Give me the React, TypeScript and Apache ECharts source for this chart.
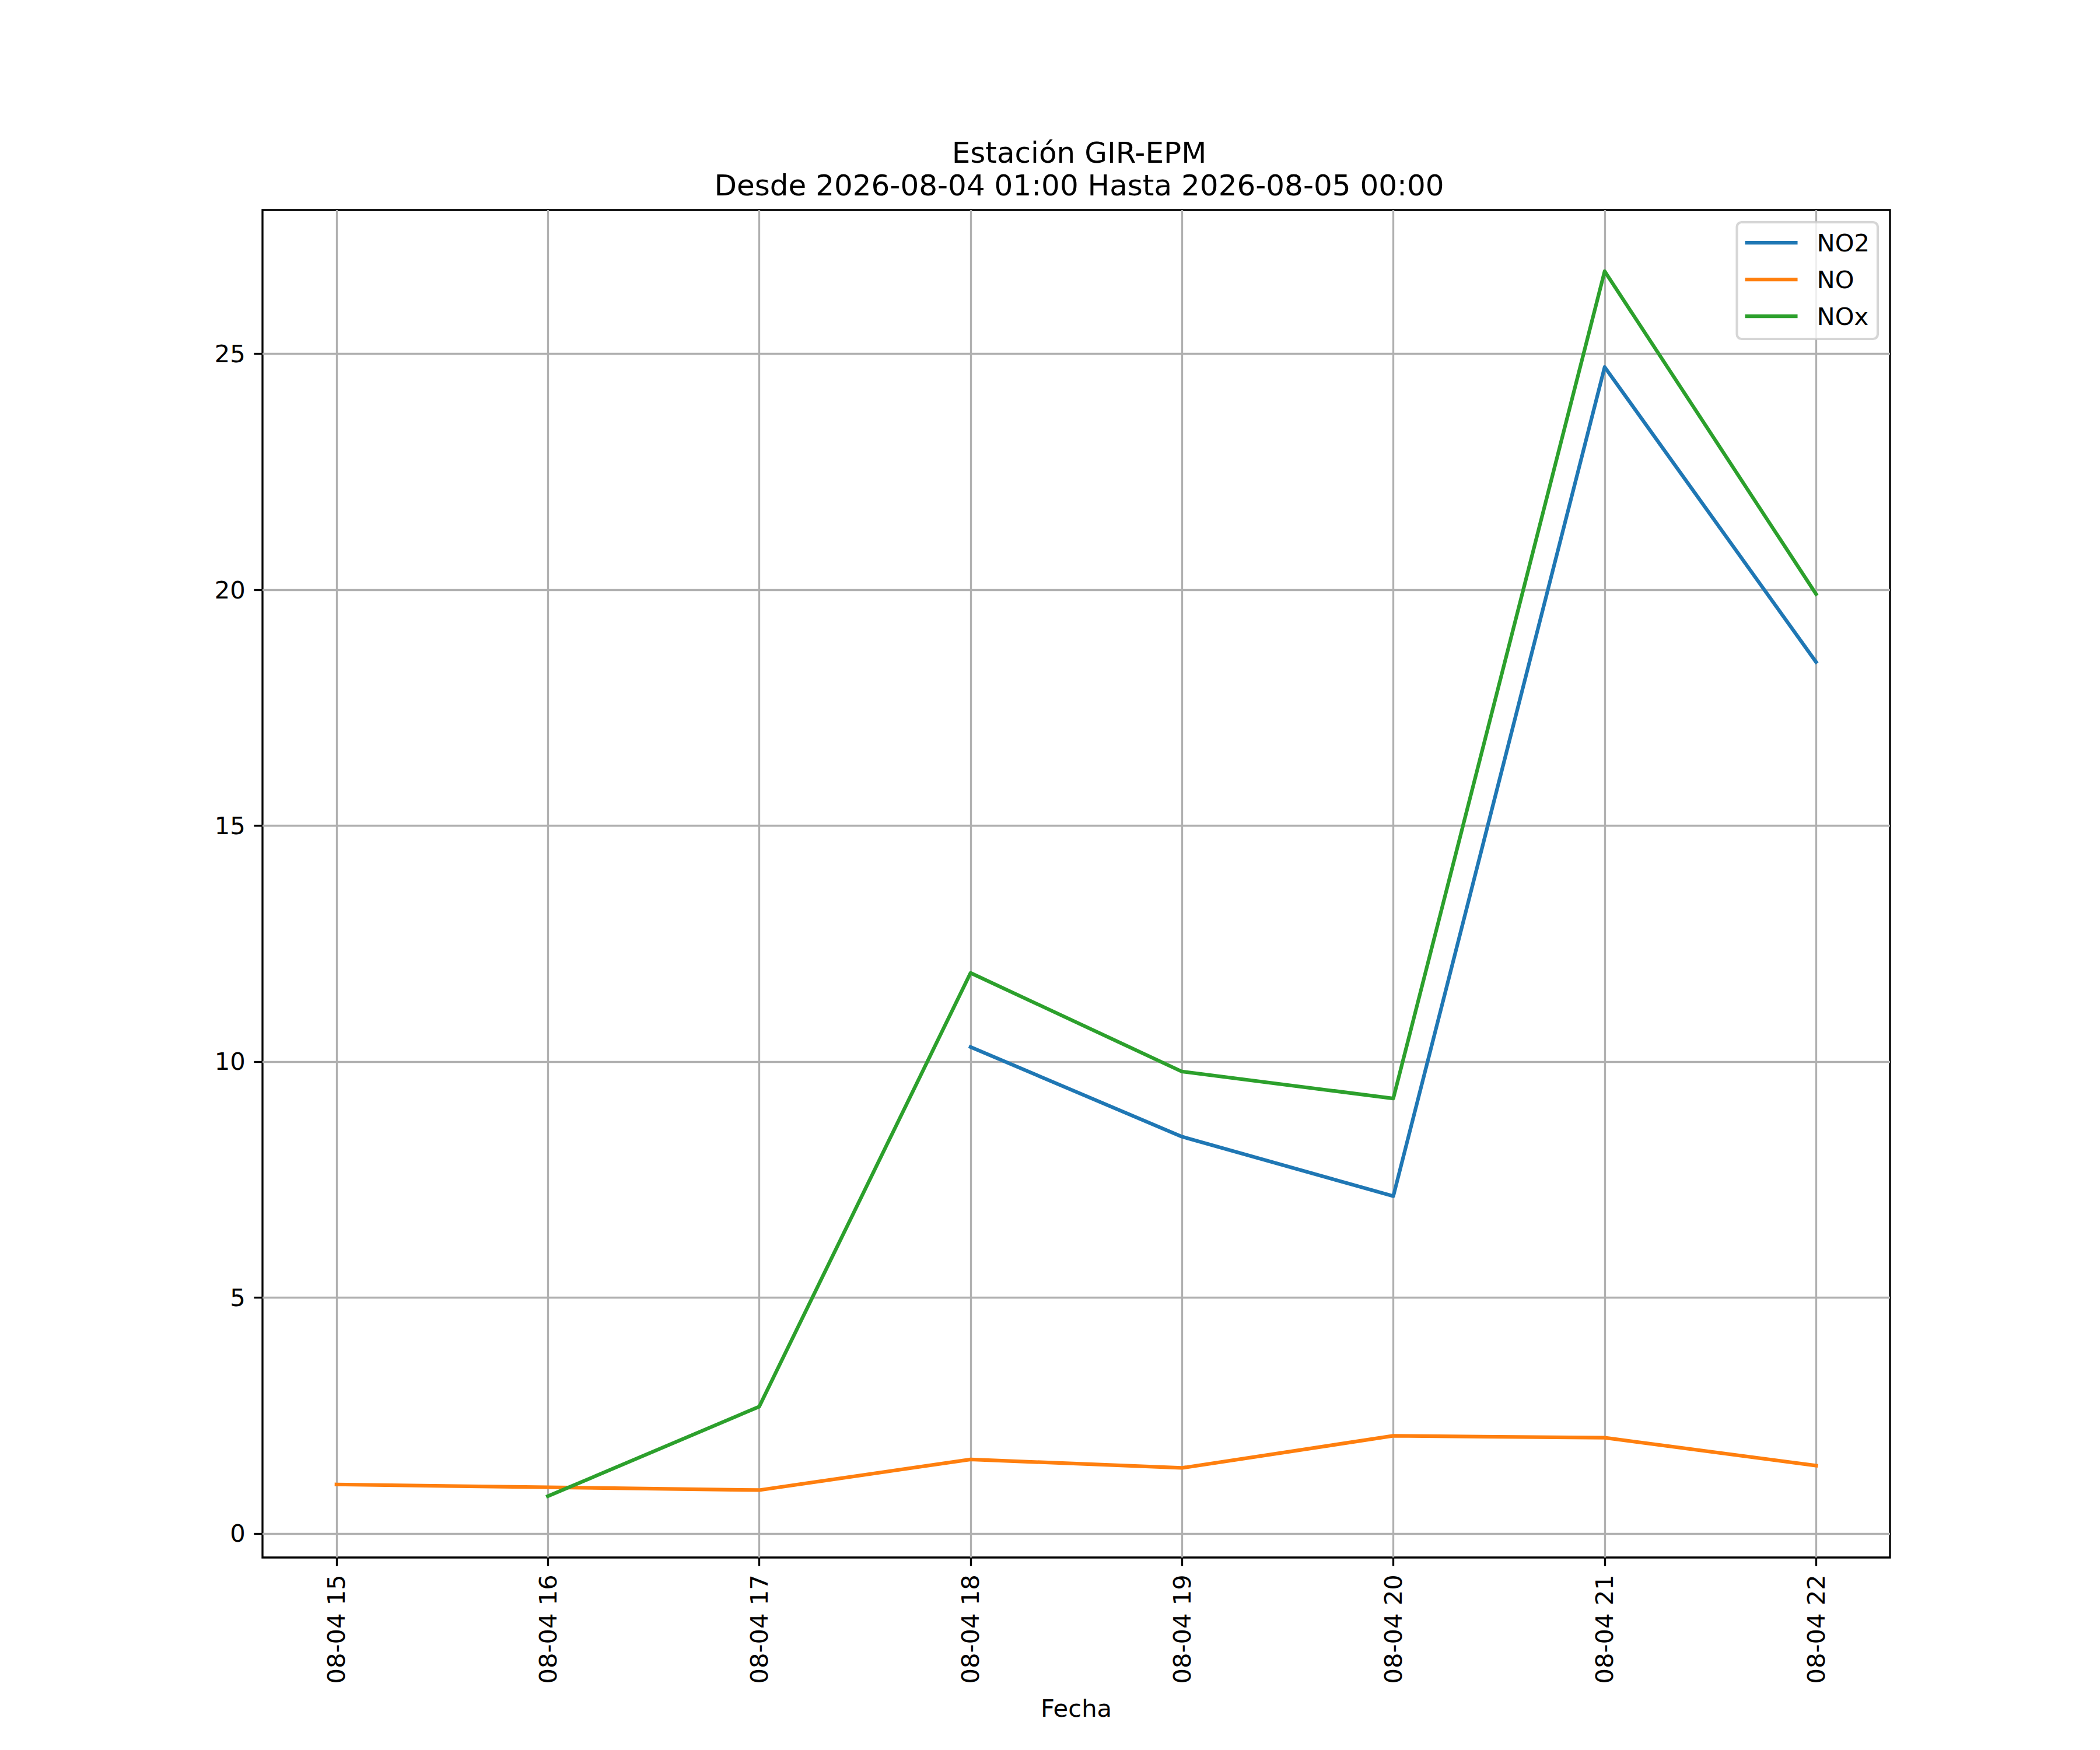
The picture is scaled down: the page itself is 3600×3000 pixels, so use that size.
import React, { useEffect, useRef } from "react";
import * as echarts from "echarts";

const hours = [15, 16, 17, 18, 19, 20, 21, 22];
const xTickLabels = ["08-04 15", "08-04 16", "08-04 17", "08-04 18", "08-04 19", "08-04 20", "08-04 21", "08-04 22"];
const no2Values: (number | null)[] = [null, null, null, 10.31, 8.41, 7.15, 24.72, 18.47];
const noValues: (number | null)[] = [1.04, 0.98, 0.92, 1.57, 1.39, 2.07, 2.03, 1.44];
const noxValues: (number | null)[] = [null, 0.79, 2.69, 11.88, 9.79, 9.22, 26.75, 19.91];
const yTicks = [0, 5, 10, 15, 20, 25];
const seriesNames = ["NO2", "NO", "NOx"];
const seriesColors = ["#1f77b4", "#ff7f0e", "#2ca02c"];
const titleLines = ["Estación GIR-EPM", "Desde 2026-08-04 01:00 Hasta 2026-08-05 00:00"];
const xAxisTitle = "Fecha";

const FONT = "DejaVu Sans";
const PT = 300 / 72;

function pairs(vals: (number | null)[]) {
  const out: [number, number][] = [];
  vals.forEach((v, i) => {
    if (v !== null) out.push([hours[i], v]);
  });
  return out;
}

export default function App() {
  const ref = useRef<HTMLDivElement>(null);
  useEffect(() => {
    if (!ref.current) return;
    const chart = echarts.init(ref.current, null, { renderer: "svg" });
    const all = [...no2Values, ...noValues, ...noxValues].filter((v) => v !== null) as number[];
    const dMin = Math.min(...all);
    const dMax = Math.max(...all);
    const yPad = 0.05 * (dMax - dMin);
    const xPad = 0.05 * (hours[hours.length - 1] - hours[0]);
    const gridColor = "#b0b0b0";
    const lw = 0.8 * PT;
    const fs = 10 * PT;
    const axisCommon = {
      axisLine: { show: false, onZero: false },
      axisTick: { show: true, inside: false, length: 3.5 * PT, lineStyle: { color: "#000", width: lw } },
      splitLine: { show: true, lineStyle: { color: gridColor, width: lw } },
    };
    const option: any = {
      animation: false,
      backgroundColor: "#fff",
      title: {
        text: titleLines.join("\n"),
        left: 1845,
        top: 229,
        textAlign: "center",
        textStyle: { fontFamily: FONT, fontSize: 12 * PT, fontWeight: "normal", color: "#000", lineHeight: 56 },
      },
      legend: {
        orient: "vertical",
        align: "left",
        right: 381,
        top: 381,
        icon: "rect",
        itemWidth: 90,
        itemHeight: 1.5 * PT,
        itemGap: 21,
        padding: [14, 14, 18, 14],
        backgroundColor: "rgba(255,255,255,0.8)",
        borderColor: "rgba(204,204,204,0.8)",
        borderWidth: 1 * PT,
        borderRadius: 8,
        textStyle: { fontFamily: FONT, fontSize: fs, color: "#000", lineHeight: 42, padding: [0, 0, 0, 28] },
        data: seriesNames,
      },
      grid: {
        left: 450,
        right: 360,
        top: 360,
        bottom: 330,
        show: true,
        borderColor: "#000",
        borderWidth: lw,
        backgroundColor: "transparent",
      },
      xAxis: {
        type: "value",
        min: hours[0] - xPad,
        max: hours[hours.length - 1] + xPad,
        ...axisCommon,
        axisTick: { ...axisCommon.axisTick, customValues: hours },
        axisLabel: {
          customValues: hours,
          rotate: 90,
          margin: 7 * PT,
          fontFamily: FONT,
          fontSize: fs,
          color: "#000",
          formatter: (v: number) => {
            const i = hours.indexOf(Math.round(v));
            return i >= 0 ? xTickLabels[i] : "";
          },
        },
        name: xAxisTitle,
        nameLocation: "middle",
        nameGap: 237,
        nameTextStyle: { fontFamily: FONT, fontSize: fs, color: "#000" },
      },
      yAxis: {
        type: "value",
        min: dMin - yPad,
        max: dMax + yPad,
        ...axisCommon,
        axisTick: { ...axisCommon.axisTick, customValues: yTicks },
        axisLabel: {
          customValues: yTicks,
          margin: 7 * PT,
          fontFamily: FONT,
          fontSize: fs,
          color: "#000",
          formatter: (v: number) => String(Math.round(v)),
        },
      },
      series: [no2Values, noValues, noxValues].map((vals, i) => ({
        name: seriesNames[i],
        type: "line",
        data: pairs(vals),
        showSymbol: false,
        symbol: "none",
        color: seriesColors[i],
        lineStyle: { color: seriesColors[i], width: 1.5 * PT, cap: "square", join: "round" },
        z: 3,
      })),
    };
    chart.setOption(option);
    return () => chart.dispose();
  }, []);
  return <div ref={ref} style={{ position: "absolute", left: 0, top: 0, width: 3600, height: 3000 }} />;
}
